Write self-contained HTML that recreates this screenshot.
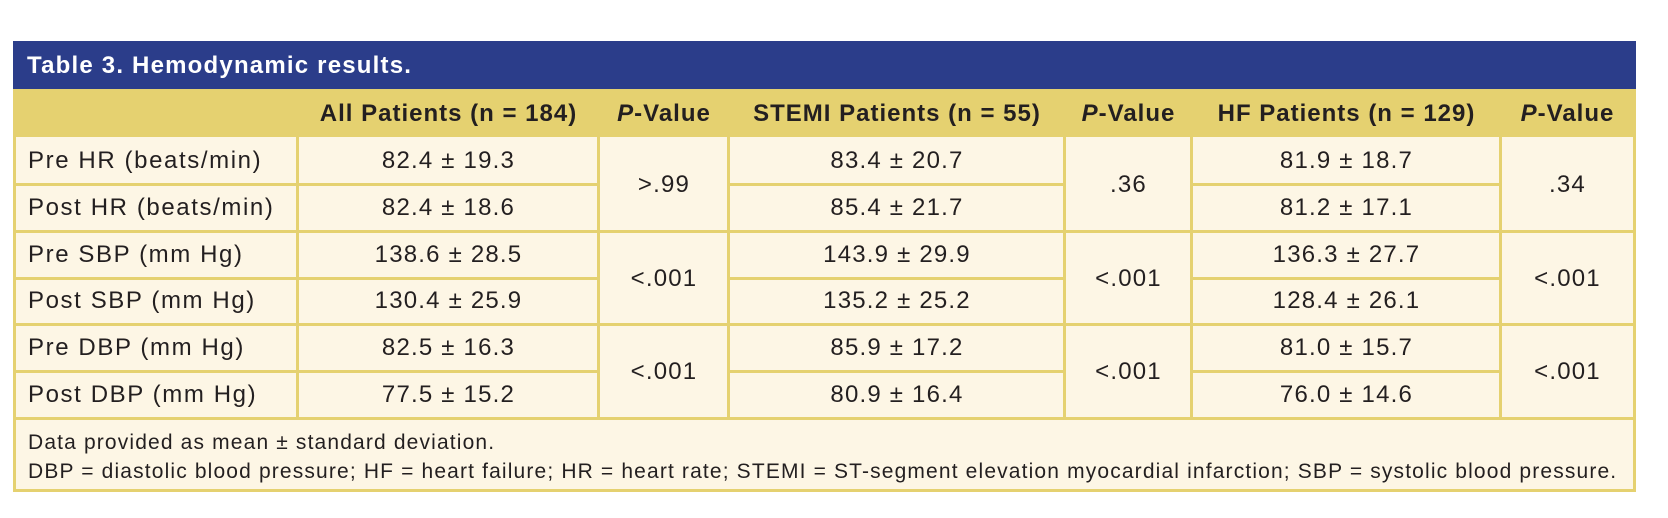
<!DOCTYPE html>
<html><head><meta charset="utf-8"><style>
html,body{margin:0;padding:0;background:#fff;}
body{width:1668px;height:518px;position:relative;overflow:hidden;font-family:"Liberation Sans",sans-serif;color:#231f20;}
.a{position:absolute;box-sizing:border-box;}
.t{position:absolute;display:flex;align-items:center;justify-content:center;font-size:24px;letter-spacing:1.2px;white-space:nowrap;}
.l{justify-content:flex-start;padding-left:12px;letter-spacing:1.6px;}
.h{font-weight:bold;letter-spacing:1px;}
.v{position:absolute;width:3px;background:#e5d170;}
.hl{position:absolute;height:3px;background:#e5d170;}
</style></head><body>
<div class="a" style="left:13px;top:41px;width:1623px;height:49px;background:#2b3d8a;"></div>
<div class="t l h" style="left:15px;top:41px;height:49px;color:#fff;font-size:24px;letter-spacing:1.2px;">Table 3. Hemodynamic results.</div>
<div class="a" style="left:13px;top:89px;width:1623px;height:49px;background:#e5d170;"></div>
<div class="a" style="left:13px;top:137px;width:1623px;height:355px;background:#fdf6e5;border:3px solid #e5d170;border-top:none;"></div>

<div class="t h" style="left:298px;top:89px;width:301px;height:49px;">All Patients (n = 184)</div>
<div class="t h" style="left:599px;top:89px;width:130px;height:49px;"><i>P</i>-Value</div>
<div class="t h" style="left:729px;top:89px;width:336px;height:49px;">STEMI Patients (n = 55)</div>
<div class="t h" style="left:1065px;top:89px;width:127px;height:49px;"><i>P</i>-Value</div>
<div class="t h" style="left:1192px;top:89px;width:309px;height:49px;">HF Patients (n = 129)</div>
<div class="t h" style="left:1501px;top:89px;width:133px;height:49px;"><i>P</i>-Value</div>

<div class="v" style="left:296px;top:137px;height:282px;"></div>
<div class="v" style="left:597px;top:137px;height:282px;"></div>
<div class="v" style="left:727px;top:137px;height:282px;"></div>
<div class="v" style="left:1063px;top:137px;height:282px;"></div>
<div class="v" style="left:1190px;top:137px;height:282px;"></div>
<div class="v" style="left:1499px;top:137px;height:282px;"></div>

<div class="hl" style="left:13px;top:183px;width:1623px;"></div>
<div class="hl" style="left:13px;top:230px;width:1623px;"></div>
<div class="hl" style="left:13px;top:277px;width:1623px;"></div>
<div class="hl" style="left:13px;top:323px;width:1623px;"></div>
<div class="hl" style="left:13px;top:370px;width:1623px;"></div>
<div class="hl" style="left:13px;top:417px;width:1623px;"></div>
<div class="a" style="left:600px;top:183px;width:127px;height:3px;background:#fdf6e5;"></div>
<div class="a" style="left:600px;top:277px;width:127px;height:3px;background:#fdf6e5;"></div>
<div class="a" style="left:600px;top:370px;width:127px;height:3px;background:#fdf6e5;"></div>
<div class="a" style="left:1066px;top:183px;width:124px;height:3px;background:#fdf6e5;"></div>
<div class="a" style="left:1066px;top:277px;width:124px;height:3px;background:#fdf6e5;"></div>
<div class="a" style="left:1066px;top:370px;width:124px;height:3px;background:#fdf6e5;"></div>
<div class="a" style="left:1502px;top:183px;width:131px;height:3px;background:#fdf6e5;"></div>
<div class="a" style="left:1502px;top:277px;width:131px;height:3px;background:#fdf6e5;"></div>
<div class="a" style="left:1502px;top:370px;width:131px;height:3px;background:#fdf6e5;"></div>

<div class="t l" style="left:16px;top:138px;height:46px;">Pre HR (beats/min)</div>
<div class="t l" style="left:16px;top:185px;height:46px;">Post HR (beats/min)</div>
<div class="t l" style="left:16px;top:232px;height:46px;">Pre SBP (mm Hg)</div>
<div class="t l" style="left:16px;top:278px;height:46px;">Post SBP (mm Hg)</div>
<div class="t l" style="left:16px;top:325px;height:46px;">Pre DBP (mm Hg)</div>
<div class="t l" style="left:16px;top:372px;height:46px;">Post DBP (mm Hg)</div>

<div class="t" style="left:298px;top:138px;width:301px;height:46px;">82.4 ± 19.3</div>
<div class="t" style="left:298px;top:185px;width:301px;height:46px;">82.4 ± 18.6</div>
<div class="t" style="left:298px;top:232px;width:301px;height:46px;">138.6 ± 28.5</div>
<div class="t" style="left:298px;top:278px;width:301px;height:46px;">130.4 ± 25.9</div>
<div class="t" style="left:298px;top:325px;width:301px;height:46px;">82.5 ± 16.3</div>
<div class="t" style="left:298px;top:372px;width:301px;height:46px;">77.5 ± 15.2</div>

<div class="t" style="left:729px;top:138px;width:336px;height:46px;">83.4 ± 20.7</div>
<div class="t" style="left:729px;top:185px;width:336px;height:46px;">85.4 ± 21.7</div>
<div class="t" style="left:729px;top:232px;width:336px;height:46px;">143.9 ± 29.9</div>
<div class="t" style="left:729px;top:278px;width:336px;height:46px;">135.2 ± 25.2</div>
<div class="t" style="left:729px;top:325px;width:336px;height:46px;">85.9 ± 17.2</div>
<div class="t" style="left:729px;top:372px;width:336px;height:46px;">80.9 ± 16.4</div>

<div class="t" style="left:1192px;top:138px;width:309px;height:46px;">81.9 ± 18.7</div>
<div class="t" style="left:1192px;top:185px;width:309px;height:46px;">81.2 ± 17.1</div>
<div class="t" style="left:1192px;top:232px;width:309px;height:46px;">136.3 ± 27.7</div>
<div class="t" style="left:1192px;top:278px;width:309px;height:46px;">128.4 ± 26.1</div>
<div class="t" style="left:1192px;top:325px;width:309px;height:46px;">81.0 ± 15.7</div>
<div class="t" style="left:1192px;top:372px;width:309px;height:46px;">76.0 ± 14.6</div>

<div class="t" style="left:599px;top:138px;width:130px;height:93px;">&gt;.99</div>
<div class="t" style="left:599px;top:232px;width:130px;height:93px;">&lt;.001</div>
<div class="t" style="left:599px;top:325px;width:130px;height:93px;">&lt;.001</div>
<div class="t" style="left:1065px;top:138px;width:127px;height:93px;">.36</div>
<div class="t" style="left:1065px;top:232px;width:127px;height:93px;">&lt;.001</div>
<div class="t" style="left:1065px;top:325px;width:127px;height:93px;">&lt;.001</div>
<div class="t" style="left:1501px;top:138px;width:133px;height:93px;">.34</div>
<div class="t" style="left:1501px;top:232px;width:133px;height:93px;">&lt;.001</div>
<div class="t" style="left:1501px;top:325px;width:133px;height:93px;">&lt;.001</div>

<div class="a" style="left:28px;top:428px;font-size:21px;letter-spacing:1.15px;line-height:29px;white-space:nowrap;">Data provided as mean ± standard deviation.<br>DBP = diastolic blood pressure; HF = heart failure; HR = heart rate; STEMI = ST-segment elevation myocardial infarction; SBP = systolic blood pressure.</div>
</body></html>
